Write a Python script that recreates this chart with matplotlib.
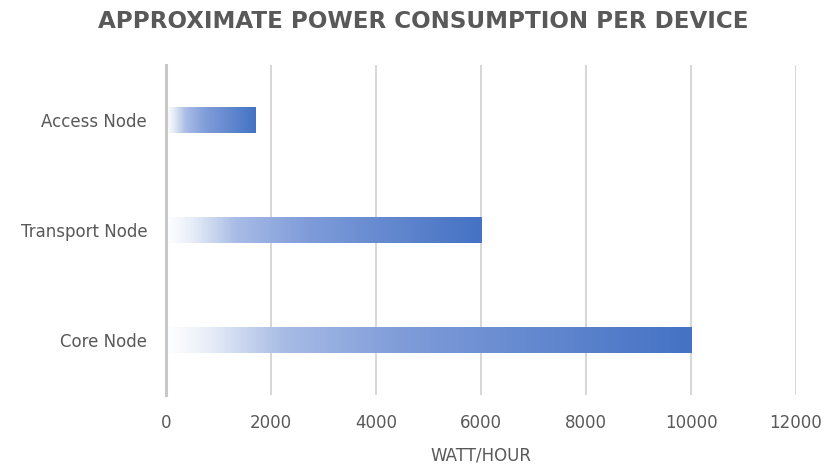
import numpy as np
import matplotlib.pyplot as plt
from matplotlib.colors import LinearSegmentedColormap

# dados
categorias = ["Core Node", "Transport Node", "Access Node"]
valores = [10000, 6000, 1700]
ticks_x = [0, 2000, 4000, 6000, 8000, 10000, 12000]

cinza = "#595959"
gradiente = LinearSegmentedColormap.from_list(
    "grad", [(0.0, "#ffffff"), (0.08, "#e8eef8"), (0.22, "#a8bce6"),
             (0.45, "#7f9cd9"), (1.0, "#4472c4")])

fig = plt.figure(figsize=(8.27, 4.69), dpi=100)
ax = fig.add_axes([0.2007, 0.158, 0.7618, 0.703])

barras = ax.barh(categorias, valores, height=0.24, color="none")
grad = np.linspace(0, 1, 256).reshape(1, -1)
for b in barras:
    x0, y0 = b.get_x(), b.get_y()
    w, h = b.get_width(), b.get_height()
    im = ax.imshow(grad, cmap=gradiente, aspect="auto",
                   extent=[x0, x0 + w, y0, y0 + h], zorder=2)
    im.set_clip_path(b)

ax.set_xlim(0, 12000)
ax.set_ylim(-0.5, 2.5)
ax.set_xticks(ticks_x)
ax.xaxis.grid(True, color="#d0d0d0", linewidth=1.2, zorder=0)
ax.set_axisbelow(True)
for s in ["top", "right", "bottom"]:
    ax.spines[s].set_visible(False)
ax.spines["left"].set_color("#c8c8c8")
ax.spines["left"].set_linewidth(2.2)
ax.tick_params(length=0, labelsize=12, colors=cinza)
ax.tick_params(axis="y", pad=13.5)
ax.tick_params(axis="x", pad=14)
ax.set_xlabel("WATT/HOUR", color=cinza, fontsize=12, labelpad=10)

fig.text(0.512, 0.955, "APPROXIMATE POWER CONSUMPTION PER DEVICE",
         ha="center", va="center", fontsize=16.6, fontweight="bold", color=cinza)

fig.savefig("out.png", dpi=100)
